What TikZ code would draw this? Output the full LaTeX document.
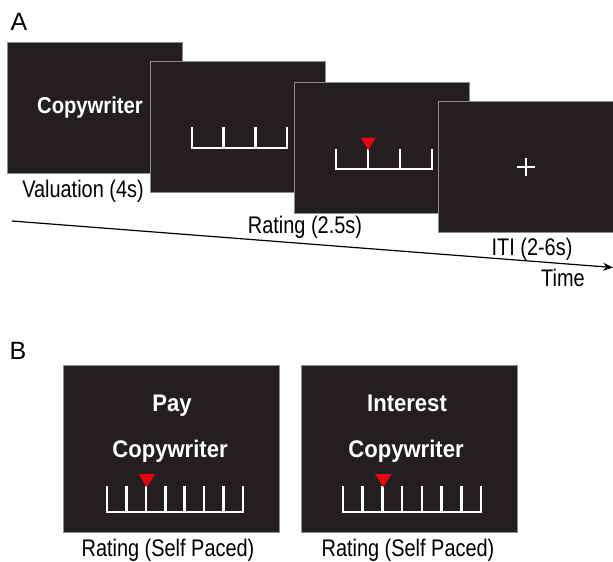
\documentclass[tikz,border=0pt]{standalone}
\usepackage{fontspec}
\setmainfont{Liberation Sans}
\newfontfamily\narrowfont{Liberation Sans}[FakeStretch=0.83]
\newfontfamily\narrowbold{Liberation Sans}[FakeStretch=0.92]
\newfontfamily\narrowboldA{Liberation Sans}[FakeStretch=0.88]
\usetikzlibrary{arrows.meta}
\definecolor{screenfill}{HTML}{231F20}
\definecolor{screenedge}{HTML}{8C8C8C}
\definecolor{markred}{HTML}{E60012}
\tikzset{
  screen/.style={rectangle, fill=screenfill, draw=screenedge, line width=0.8pt, inner sep=0pt},
  screenA/.style={screen, minimum width=175pt, minimum height=131pt},
  screenB/.style={screen, minimum width=216pt, minimum height=167pt},
  lbl/.style={anchor=base, inner sep=0pt, font=\narrowfont\fontsize{24}{28}\selectfont},
  word/.style={anchor=base, inner sep=0pt, text=white, font=\narrowbold\bfseries\fontsize{24}{28}\selectfont},
  panel/.style={anchor=base, inner sep=0pt, font=\fontsize{25}{30}\selectfont},
  bar/.style={draw=white, line width=2.6pt, line cap=rect},
  marker/.style={fill=markred},
}
\begin{document}
\begin{tikzpicture}[x=1pt,y=-1pt]
\useasboundingbox (0,0) rectangle (613,562);

% Panel A
\node[panel] (A) at (19,30) {A};
\node[screenA] (s1) at (94.5,107.5) {};
\node[word, font=\narrowboldA\bfseries\fontsize{23}{27}\selectfont] (w1) at (90,113) {Copywriter};
\node[lbl] (l1) at (83,197) {Valuation (4s)};

\node[screenA] (s2) at (238,127) {};
\draw[bar] (192,148) -- (287,148);
\foreach \x in {192,223.67,255.33,287} \draw[bar] (\x,148) -- (\x,128);

\node[screenA] (s3) at (382,148) {};
\draw[bar] (336,169) -- (432,169);
\foreach \x in {336,368,400,432} \draw[bar] (\x,169) -- (\x,150);
\fill[marker] (360.5,137.5) -- (376,137.5) -- (368.3,150) -- cycle;
\node[lbl] (l2) at (305,233) {Rating (2.5s)};

\node[screenA] (s4) at (525.5,166.5) {};
\draw[draw=white, line width=2.4pt] (517,167) -- (535,167);
\draw[draw=white, line width=2.4pt] (526,158) -- (526,176);
\node[lbl] (l3) at (532,255) {ITI (2-6s)};

\coordinate (t0) at (12,221);
\coordinate (t1) at (613,267.5);
\draw[line width=1.2pt, -{Stealth[length=10pt,width=8pt]}] (t0) -- (t1);
\node[lbl] (l4) at (563,286.5) {Time};

% Panel B
\node[panel] (B) at (18,359) {B};
\node[screenB] (s5) at (171,448.5) {};
\node[word] (w2) at (172,411.5) {Pay};
\node[word] (w3) at (170,457) {Copywriter};
\draw[bar] (107,512) -- (243,512);
\foreach \i in {0,...,7} \draw[bar] ({107+\i*136/7},512) -- ({107+\i*136/7},487);
\fill[marker] (138.4,474) -- (155.4,474) -- (146.9,487) -- cycle;
\node[lbl] (l5) at (168,556.5) {Rating (Self Paced)};

\node[screenB] (s6) at (409,448.5) {};
\node[word] (w4) at (407,411.5) {Interest};
\node[word] (w5) at (406,457) {Copywriter};
\draw[bar] (343,512) -- (481,512);
\foreach \i in {0,...,7} \draw[bar] ({343+\i*138/7},512) -- ({343+\i*138/7},487);
\fill[marker] (374.9,474) -- (391.9,474) -- (383.4,487) -- cycle;
\node[lbl] (l6) at (408,556.5) {Rating (Self Paced)};
\end{tikzpicture}
\end{document}
